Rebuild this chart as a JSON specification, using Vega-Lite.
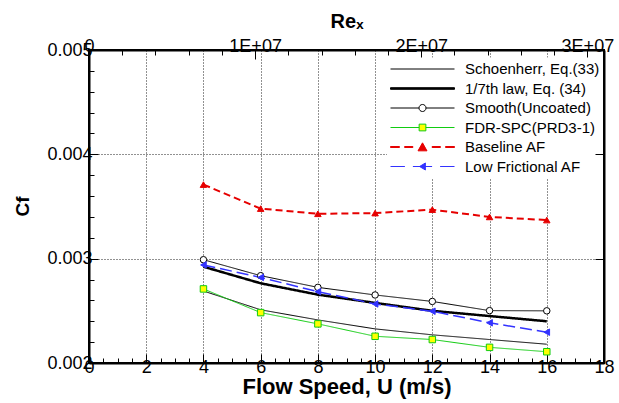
{
  "$schema": "https://vega.github.io/schema/vega-lite/v6.json",
  "width": 515,
  "height": 313,
  "autosize": {"type": "none"},
  "padding": {"left": 89, "top": 50, "right": 15, "bottom": 40},
  "background": "white",
  "config": {
    "view": {"stroke": "black", "strokeWidth": 2},
    "axis": {
      "labelFont": "Liberation Sans", "labelFontSize": 18, "labelColor": "black",
      "titleFont": "Liberation Sans", "titleFontWeight": "bold", "titleColor": "black",
      "domainColor": "black", "domainWidth": 2, "tickColor": "black", "tickWidth": 1,
      "gridColor": "#222222", "gridDash": [1, 2], "gridWidth": 1,
      "labelOverlap": false, "labelFlush": false, "labelBound": false
    },
    "legend": {"labelFont": "Liberation Sans", "labelColor": "black"}
  },
  "data": {
    "values": [
      {"series": "Schoenherr, Eq.(33)", "U": 4, "Cf": 0.00269},
      {"series": "Schoenherr, Eq.(33)", "U": 6, "Cf": 0.00251},
      {"series": "Schoenherr, Eq.(33)", "U": 8, "Cf": 0.002413},
      {"series": "Schoenherr, Eq.(33)", "U": 10, "Cf": 0.002327},
      {"series": "Schoenherr, Eq.(33)", "U": 12, "Cf": 0.00227},
      {"series": "Schoenherr, Eq.(33)", "U": 14, "Cf": 0.002225},
      {"series": "Schoenherr, Eq.(33)", "U": 16, "Cf": 0.00218},
      {"series": "1/7th law, Eq. (34)", "U": 4, "Cf": 0.002923},
      {"series": "1/7th law, Eq. (34)", "U": 6, "Cf": 0.002764},
      {"series": "1/7th law, Eq. (34)", "U": 8, "Cf": 0.002655},
      {"series": "1/7th law, Eq. (34)", "U": 10, "Cf": 0.002576},
      {"series": "1/7th law, Eq. (34)", "U": 12, "Cf": 0.0025},
      {"series": "1/7th law, Eq. (34)", "U": 14, "Cf": 0.00245},
      {"series": "1/7th law, Eq. (34)", "U": 16, "Cf": 0.0024},
      {"series": "Smooth(Uncoated)", "U": 4, "Cf": 0.00299},
      {"series": "Smooth(Uncoated)", "U": 6, "Cf": 0.002837},
      {"series": "Smooth(Uncoated)", "U": 8, "Cf": 0.002725},
      {"series": "Smooth(Uncoated)", "U": 10, "Cf": 0.002652},
      {"series": "Smooth(Uncoated)", "U": 12, "Cf": 0.00259},
      {"series": "Smooth(Uncoated)", "U": 14, "Cf": 0.002502},
      {"series": "Smooth(Uncoated)", "U": 16, "Cf": 0.0025},
      {"series": "FDR-SPC(PRD3-1)", "U": 4, "Cf": 0.00271},
      {"series": "FDR-SPC(PRD3-1)", "U": 6, "Cf": 0.002483},
      {"series": "FDR-SPC(PRD3-1)", "U": 8, "Cf": 0.002375},
      {"series": "FDR-SPC(PRD3-1)", "U": 10, "Cf": 0.002256},
      {"series": "FDR-SPC(PRD3-1)", "U": 12, "Cf": 0.002225},
      {"series": "FDR-SPC(PRD3-1)", "U": 14, "Cf": 0.00215},
      {"series": "FDR-SPC(PRD3-1)", "U": 16, "Cf": 0.002108},
      {"series": "Baseline AF", "U": 4, "Cf": 0.00371},
      {"series": "Baseline AF", "U": 6, "Cf": 0.00348},
      {"series": "Baseline AF", "U": 8, "Cf": 0.00343},
      {"series": "Baseline AF", "U": 10, "Cf": 0.003437},
      {"series": "Baseline AF", "U": 12, "Cf": 0.00347},
      {"series": "Baseline AF", "U": 14, "Cf": 0.0034},
      {"series": "Baseline AF", "U": 16, "Cf": 0.00337},
      {"series": "Low Frictional AF", "U": 4, "Cf": 0.00294},
      {"series": "Low Frictional AF", "U": 6, "Cf": 0.00282},
      {"series": "Low Frictional AF", "U": 8, "Cf": 0.002684},
      {"series": "Low Frictional AF", "U": 10, "Cf": 0.002566},
      {"series": "Low Frictional AF", "U": 12, "Cf": 0.002496},
      {"series": "Low Frictional AF", "U": 14, "Cf": 0.002385},
      {"series": "Low Frictional AF", "U": 16, "Cf": 0.002295}
    ]
  },
  "layer": [
    {
      "data": {"values": [{}]},
      "mark": {"type": "rule", "color": "black", "strokeWidth": 2},
      "encoding": {
        "x": {
          "datum": 0, "type": "quantitative",
          "scale": {"domain": [0, 31000000], "nice": false, "zero": false},
          "axis": {
            "orient": "top",
            "values": [0, 2000000, 4000000, 6000000, 8000000, 10000000, 12000000, 14000000, 16000000, 18000000, 20000000, 22000000, 24000000, 26000000, 28000000, 30000000],
            "labelExpr": "datum.value % 10000000 == 0 ? (datum.value == 0 ? '0' : format(datum.value / 10000000, 'd') + 'E+07') : ''",
            "tickSize": {"condition": {"test": "datum.value % 10000000 == 0", "value": -9}, "value": -5},
            "labelPadding": 4,
            "grid": false,
            "title": "Reₓ", "titleFontSize": 20, "titleY": -23, "titleBaseline": "alphabetic"
          }
        }
      }
    },
    {
      "encoding": {
        "x": {
          "field": "U", "type": "quantitative",
          "scale": {"domain": [0, 18], "nice": false, "zero": false},
          "axis": {
            "orient": "bottom",
            "values": [0, 0.5, 1, 1.5, 2, 2.5, 3, 3.5, 4, 4.5, 5, 5.5, 6, 6.5, 7, 7.5, 8, 8.5, 9, 9.5, 10, 10.5, 11, 11.5, 12, 12.5, 13, 13.5, 14, 14.5, 15, 15.5, 16, 16.5, 17, 17.5, 18],
            "labelExpr": "datum.value % 2 == 0 ? format(datum.value, 'd') : ''",
            "tickSize": {"condition": {"test": "datum.value % 2 == 0", "value": -9}, "value": -5},
            "labelPadding": 4,
            "grid": true,
            "gridOpacity": {"condition": {"test": "datum.value % 2 == 0 && datum.value > 0 && datum.value < 18", "value": 1}, "value": 0},
            "title": "Flow Speed, U (m/s)", "titleFontSize": 22, "titleY": 30, "titleBaseline": "alphabetic"
          }
        }
      },
      "layer": [
        {
          "encoding": {
            "y": {
              "field": "Cf", "type": "quantitative",
              "scale": {"domain": [0.002, 0.005], "nice": false, "zero": false},
              "axis": {
                "orient": "left",
                "values": [0.002, 0.0022, 0.0024, 0.0026, 0.0028, 0.003, 0.0032, 0.0034, 0.0036, 0.0038, 0.004, 0.0042, 0.0044, 0.0046, 0.0048, 0.005],
                "labelExpr": "round(datum.value * 10000) % 10 == 0 ? format(datum.value, '.3f') : ''",
                "tickSize": {"condition": {"test": "round(datum.value * 10000) % 10 == 0", "value": -9}, "value": -5},
                "labelPadding": 6,
                "grid": true,
                "gridOpacity": {"condition": {"test": "round(datum.value * 10000) == 30 || round(datum.value * 10000) == 40", "value": 1}, "value": 0},
                "title": "Cf", "titleFontSize": 19, "titleX": -67, "titleY": 156, "titleAlign": "center", "titleBaseline": "middle"
              }
            },
            "stroke": {
              "field": "series", "type": "nominal",
              "scale": {
                "domain": ["Schoenherr, Eq.(33)", "1/7th law, Eq. (34)", "Smooth(Uncoated)", "FDR-SPC(PRD3-1)", "Baseline AF", "Low Frictional AF"],
                "range": ["#000000", "#000000", "#000000", "#11cc11", "#e60000", "#3333ff"]
              },
              "legend": {
                "title": null, "orient": "none", "legendX": 298, "legendY": 7.5,
                "fillColor": "white", "padding": 3, "symbolSize": 4096, "symbolOpacity": 1, "symbolStrokeWidth": 1,
                "labelFontSize": 15, "labelOffset": 10, "labelLimit": 300, "rowPadding": 2.5, "clipHeight": 17
              }
            },
            "strokeDash": {
              "field": "series", "type": "nominal",
              "scale": {
                "domain": ["Schoenherr, Eq.(33)", "1/7th law, Eq. (34)", "Smooth(Uncoated)", "FDR-SPC(PRD3-1)", "Baseline AF", "Low Frictional AF"],
                "range": [[1, 0], [1, 0], [1, 0], [1, 0], [7, 4], [12, 5]]
              },
              "legend": null
            },
            "strokeWidth": {
              "field": "series", "type": "nominal",
              "scale": {
                "type": "ordinal",
                "domain": ["Schoenherr, Eq.(33)", "1/7th law, Eq. (34)", "Smooth(Uncoated)", "FDR-SPC(PRD3-1)", "Baseline AF", "Low Frictional AF"],
                "range": [1, 2.5, 1, 1, 2, 1.5]
              },
              "legend": null
            }
          },
          "layer": [
            {"mark": {"type": "line", "opacity": 1}},
            {
              "mark": {"type": "point", "filled": true, "opacity": 0},
              "encoding": {
                "shape": {
                  "field": "series", "type": "nominal",
                  "scale": {
                    "domain": ["Schoenherr, Eq.(33)", "1/7th law, Eq. (34)", "Smooth(Uncoated)", "FDR-SPC(PRD3-1)", "Baseline AF", "Low Frictional AF"],
                    "range": [
                      "M-1,0H1",
                      "M-1,-0.025H1V0.025H-1Z",
                      "M-1,0H-0.11M0.11,0H1M-0.11,0A0.11,0.11,0,1,0,0.11,0A0.11,0.11,0,1,0,-0.11,0Z",
                      "M-1,0H-0.105M0.105,0H1M-0.105,-0.105H0.105V0.105H-0.105Z",
                      "M-1,-0.015H-0.72V0.015H-1ZM-0.56,-0.015H-0.3V0.015H-0.56ZM0.3,-0.015H0.56V0.015H0.3ZM0.72,-0.015H1V0.015H0.72ZM0,-0.13L0.14,0.12L-0.14,0.12Z",
                      "M-1,0H-0.55M-0.3,0H0.3M0.55,0H1M-0.09,0L0.09,-0.11L0.09,0.11Z"
                    ]
                  }
                },
                "fill": {
                  "field": "series", "type": "nominal",
                  "scale": {
                    "domain": ["Schoenherr, Eq.(33)", "1/7th law, Eq. (34)", "Smooth(Uncoated)", "FDR-SPC(PRD3-1)", "Baseline AF", "Low Frictional AF"],
                    "range": ["transparent", "#000000", "#ffffff", "#ffff00", "#e60000", "#3333ff"]
                  }
                }
              }
            }
          ]
        },
        {
          "transform": [{"filter": {"field": "series", "oneOf": ["Smooth(Uncoated)", "FDR-SPC(PRD3-1)", "Baseline AF", "Low Frictional AF"]}}],
          "mark": {"type": "point", "filled": true, "opacity": 1, "strokeWidth": 1},
          "encoding": {
            "y": {
              "field": "Cf", "type": "quantitative",
              "scale": {"domain": [0.002, 0.005], "nice": false, "zero": false},
              "axis": {
                "orient": "right",
                "values": [0.002, 0.003, 0.004, 0.005],
                "labels": false, "title": null, "grid": false,
                "tickSize": -9, "domain": true, "domainWidth": 2, "domainColor": "black",
                "zindex": 1
              }
            },
            "stroke": {
              "field": "series", "type": "nominal",
              "scale": {"domain": ["Smooth(Uncoated)", "FDR-SPC(PRD3-1)", "Baseline AF", "Low Frictional AF"], "range": ["#000000", "#11cc11", "#e60000", "#3333ff"]},
              "legend": null
            },
            "shape": {
              "field": "series", "type": "nominal",
              "scale": {"domain": ["Smooth(Uncoated)", "FDR-SPC(PRD3-1)", "Baseline AF", "Low Frictional AF"], "range": ["circle", "square", "triangle-up", "triangle-left"]},
              "legend": null
            },
            "fill": {
              "field": "series", "type": "nominal",
              "scale": {"domain": ["Smooth(Uncoated)", "FDR-SPC(PRD3-1)", "Baseline AF", "Low Frictional AF"], "range": ["#ffffff", "#ffff00", "#e60000", "#3333ff"]},
              "legend": null
            },
            "size": {"value": 42}
          }
        }
      ],
      "resolve": {"scale": {"stroke": "independent", "shape": "independent", "fill": "independent"}, "axis": {"y": "independent"}}
    }
  ],
  "resolve": {"scale": {"x": "independent"}}
}
